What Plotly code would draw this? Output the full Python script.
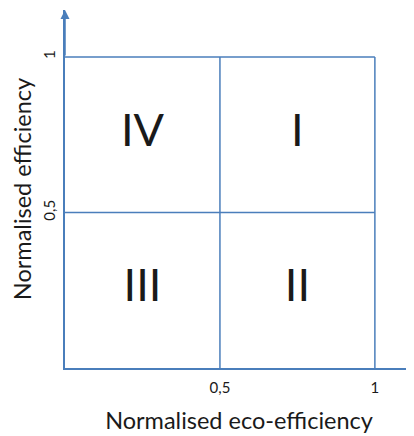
import plotly.graph_objects as go

# data
boundaries = [0.5, 1.0]
quadrant_labels = ["I", "II", "III", "IV"]
quadrant_x = [0.75, 0.75, 0.25, 0.25]
quadrant_y = [0.75, 0.25, 0.25, 0.75]
x_ticks = [0.5, 1.0]
x_tick_text = ["0,5", "1"]
y_ticks = [0.5, 1.0]
y_tick_text = ["0,5", "1"]

line_color = "#4A7EBB"
text_color = "#1a1a1a"
font_family = "Lato, 'Open Sans', sans-serif"

fig = go.Figure()

# vertical boundary lines
for b in boundaries:
    fig.add_trace(go.Scatter(x=[b, b], y=[0, 1.0], mode="lines",
                             line=dict(color=line_color, width=1.5),
                             hoverinfo="skip", showlegend=False))
# horizontal boundary lines
for b in boundaries:
    fig.add_trace(go.Scatter(x=[0, 1.0], y=[b, b], mode="lines",
                             line=dict(color=line_color, width=1.5),
                             hoverinfo="skip", showlegend=False))

fig.add_trace(go.Scatter(x=quadrant_x, y=quadrant_y, mode="text",
                         text=quadrant_labels,
                         textfont=dict(size=45, color=text_color, family=font_family),
                         hoverinfo="skip", showlegend=False))

# y-axis arrow
fig.add_annotation(x=0, y=1.151, ax=0, ay=1.0, xref="x", yref="y",
                   axref="x", ayref="y", showarrow=True, arrowhead=2,
                   arrowsize=1.2, arrowwidth=1.5, arrowcolor=line_color, text="")

fig.update_layout(
    width=406, height=428,
    margin=dict(l=57, r=1, t=2, b=68, autoexpand=False),
    paper_bgcolor="white", plot_bgcolor="white",
    font=dict(family=font_family, color=text_color),
    xaxis=dict(range=[0, 1.123], tickvals=x_ticks, ticktext=x_tick_text,
               showgrid=False, zeroline=False, showline=True,
               linecolor=line_color, linewidth=1.5, ticks="", ticklen=0,
               ticklabelstandoff=5,
               tickfont=dict(size=15, color=text_color),
               title=dict(text="Normalised eco-efficiency", font=dict(size=23.5),
                          standoff=18),
               automargin=False, fixedrange=True),
    yaxis=dict(range=[0, 1.151], tickvals=y_ticks, ticktext=y_tick_text,
               showgrid=False, zeroline=False, showline=True,
               linecolor=line_color, linewidth=1.5, ticks="", ticklen=0,
               tickangle=-90, ticklabelstandoff=2,
               tickfont=dict(size=15, color=text_color),
               title=dict(text="Normalised efficiency", font=dict(size=23.5),
                          standoff=7),
               automargin=False, fixedrange=True),
)

fig.write_html("out.html")
